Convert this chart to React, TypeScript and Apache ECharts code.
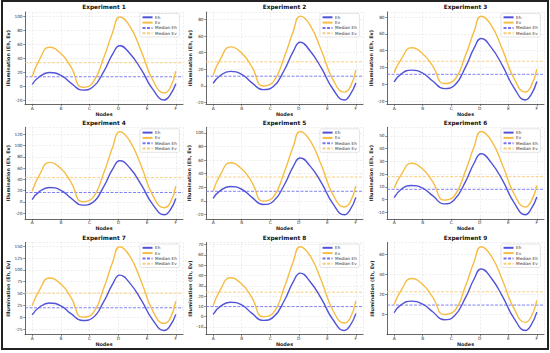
import React, { useEffect, useRef } from 'react';
import * as echarts from 'echarts';

const CATEGORIES = ['A', 'B', 'C', 'D', 'E', 'F'];
const EXPERIMENTS = ['Experiment 1', 'Experiment 2', 'Experiment 3', 'Experiment 4', 'Experiment 5', 'Experiment 6', 'Experiment 7', 'Experiment 8', 'Experiment 9'];
// positions along the node axis (A=0 ... F=5) where the curves were read
const X_SAMPLES = [0, 0.25, 0.6, 1, 1.35, 1.75, 2.1, 2.5, 2.8, 3.05, 3.4, 3.8, 4.2, 4.6, 4.8, 5];

const EH_1 = [3, 14, 20, 16, 5, -5, -1, 22, 46, 58, 47, 24, -4, -19, -12, 4];
const EV_1 = [14, 38, 56, 47, 28, -1, 5, 42, 77, 99, 86, 50, 9, -9, -2, 22];
const EH_2 = [3, 12.5, 17.5, 14, 4, -4.5, -1, 19.5, 41, 52.5, 42, 21, -4, -17, -10.5, 3.5];
const EV_2 = [13, 32, 47, 39.5, 23.5, 0, 4.5, 35.5, 65, 84, 73, 42, 7.5, -7.5, -1.5, 19];
const EH_3 = [3, 12.5, 17, 13.5, 4, -5, -1.5, 20.5, 43, 54.5, 44, 22, -4, -18.5, -12, 3.5];
const EV_3 = [14, 30, 43.5, 36.5, 22, 1, 5, 34.5, 63, 81, 70.5, 41, 7, -9, -2, 18];
const EH_4 = [4, 18, 25.5, 20.5, 6.5, -6, -1.5, 28, 58, 73, 60, 30, -5, -23, -15, 6];
const EV_4 = [19, 47.5, 70, 59, 35, 0, 6.5, 52.5, 97, 124.5, 108, 63, 11, -10.5, -2.5, 28];
const EH_5 = [3.5, 15, 21, 17, 5.5, -5.5, -1, 24, 50, 63, 51, 26, -4.5, -20.5, -13, 5];
const EV_5 = [14.5, 38, 56, 47, 28, -0.5, 5, 43, 79, 102, 88.5, 51.5, 9, -9, -2, 22];
const EH_6 = [1.5, 8, 11, 9, 3, -3.5, -0.5, 14, 28.5, 36, 29, 15, -2.5, -12, -7.5, 2];
const EV_6 = [9, 19.5, 28.5, 24, 14, -0.5, 2.5, 22.5, 41.5, 53.5, 46.5, 27, 4.5, -6, -1.5, 11];
const EH_7 = [5, 21, 30, 24, 7.5, -7, -1.5, 34, 70, 89, 72, 36, -6, -28, -18, 6];
const EV_7 = [24.5, 57, 83, 70, 42, 0, 7.5, 63, 116, 149, 129, 75, 13, -13, -3, 34];
const EH_8 = [2.3, 10, 14, 11.5, 3.5, -3.6, -0.7, 16, 33.5, 42.3, 34, 17, -3, -13.4, -8.5, 3];
const EV_8 = [10.7, 26, 37.8, 31.7, 19, 0, 3.5, 29, 53, 68, 59, 34.5, 6, -6.2, -1.5, 15.3];
const EH_9 = [2, 10, 13.5, 10.5, 3, -5, -1.5, 17, 35.5, 45.4, 36.5, 18, -3.5, -15.6, -10, 2.6];
const EV_9 = [10.3, 24.5, 36, 30, 17.5, 0.3, 3.5, 28.5, 52.5, 67.5, 58.5, 34, 6, -7.6, -2, 14.2];

const EH_SERIES = [EH_1, EH_2, EH_3, EH_4, EH_5, EH_6, EH_7, EH_8, EH_9];
const EV_SERIES = [EV_1, EV_2, EV_3, EV_4, EV_5, EV_6, EV_7, EV_8, EV_9];

const MEDIAN_EH = [14, 11.7, 12, 16.5, 14, 8, 20, 9.8, 9.6];
const MEDIAN_EV = [34, 29, 27.5, 43, 35, 18, 51, 23.8, 22.8];

// axis extents and tick steps per panel
const Y_MIN = [-25, -22, -23.5, -30.4, -26.6, -15.3, -36.9, -17.5, -19.8];
const Y_MAX = [106, 89, 86, 132.4, 108.1, 56.8, 157.9, 72.1, 71.7];
const Y_STEP = [20, 20, 20, 20, 20, 10, 25, 10, 20];
const X_MIN = -0.25;
const X_MAX = 5.25;

const FONT = 'DejaVu Sans';
const COL_LEFT = [25, 206, 387];
const COL_WIDTH = [158, 157, 157];
const ROW_TOP = [12, 127.3, 242.5];
const ROW_HEIGHT = [92.2, 91.6, 92.2];

const C_EH = '#5252d9';
const C_EV = '#f6bd45';
const C_MEH = '#7474f2';
const C_MEV = '#f7cc78';

export default function App() {
  const ref = useRef<HTMLDivElement>(null);
  useEffect(() => {
    if (!ref.current) return;
    const chart = echarts.init(ref.current, undefined, { renderer: 'svg' });
    const grids: any[] = [];
    const xAxes: any[] = [];
    const yAxes: any[] = [];
    const series: any[] = [];
    const legends: any[] = [];
    const graphics: any[] = [];
    for (let i = 0; i < 9; i++) {
      const r = Math.floor(i / 3);
      const c = i % 3;
      const left = COL_LEFT[c];
      const top = ROW_TOP[r];
      const width = COL_WIDTH[c];
      const height = ROW_HEIGHT[r];
      grids.push({ left, top, width, height, containLabel: false });
      const splitLine = { show: true, lineStyle: { color: '#e2e2e2', width: 0.6, type: [2, 1.5] } };
      xAxes.push({
        gridIndex: i,
        type: 'value',
        min: X_MIN,
        max: X_MAX,
        minInterval: 1,
        maxInterval: 1,
        name: 'Nodes',
        nameLocation: 'middle',
        nameGap: 7,
        nameTextStyle: { fontFamily: FONT, fontWeight: 'bold', fontSize: 4.9, color: '#222' },
        axisLine: { show: true, onZero: false, lineStyle: { color: '#444', width: 0.8 } },
        axisTick: { show: true, length: 1.8, lineStyle: { color: '#444', width: 0.6 } },
        axisLabel: {
          fontFamily: FONT, fontSize: 4.4, color: '#333', margin: 1.8,
          showMinLabel: false, showMaxLabel: false,
          formatter: (v: number) => (Number.isInteger(v) && v >= 0 && v < CATEGORIES.length ? CATEGORIES[v] : ''),
        },
        splitLine,
      });
      yAxes.push({
        gridIndex: i,
        type: 'value',
        min: Y_MIN[i],
        max: Y_MAX[i],
        minInterval: Y_STEP[i],
        maxInterval: Y_STEP[i],
        name: 'Illumination (Eh, Ev)',
        nameLocation: 'middle',
        nameGap: 13,
        nameTextStyle: { fontFamily: FONT, fontWeight: 'bold', fontSize: 4.9, color: '#222' },
        axisLine: { show: true, onZero: false, lineStyle: { color: '#444', width: 0.8 } },
        axisTick: { show: true, length: 1.8, lineStyle: { color: '#444', width: 0.6 } },
        axisLabel: { fontFamily: FONT, fontSize: 4.3, color: '#333', margin: 2.4, showMinLabel: false, showMaxLabel: false },
        splitLine,
      });
      const eh = X_SAMPLES.map((x, k) => [x, EH_SERIES[i][k]]);
      const ev = X_SAMPLES.map((x, k) => [x, EV_SERIES[i][k]]);
      series.push({
        type: 'line', name: 'Eh', xAxisIndex: i, yAxisIndex: i, data: eh, smooth: 0.5, symbol: 'none',
        lineStyle: { color: C_EH, width: 1.4 }, itemStyle: { color: C_EH }, z: 3,
      });
      series.push({
        type: 'line', name: 'Ev', xAxisIndex: i, yAxisIndex: i, data: ev, smooth: 0.5, symbol: 'none',
        lineStyle: { color: C_EV, width: 1.4 }, itemStyle: { color: C_EV }, z: 3,
      });
      series.push({
        type: 'line', name: 'Median Eh', xAxisIndex: i, yAxisIndex: i,
        data: [[X_MIN, MEDIAN_EH[i]], [X_MAX, MEDIAN_EH[i]]], symbol: 'none',
        lineStyle: { color: C_MEH, width: 0.9, type: [3, 1.5] }, itemStyle: { color: C_MEH }, z: 2,
      });
      series.push({
        type: 'line', name: 'Median Ev', xAxisIndex: i, yAxisIndex: i,
        data: [[X_MIN, MEDIAN_EV[i]], [X_MAX, MEDIAN_EV[i]]], symbol: 'none',
        lineStyle: { color: C_MEV, width: 0.9, type: [3, 1.5] }, itemStyle: { color: C_MEV }, z: 2,
      });
      legends.push({
        data: ['Eh', 'Ev', 'Median Eh', 'Median Ev'],
        orient: 'vertical',
        right: 550 - (left + width - 3.6),
        top: top + 1.5,
        itemWidth: 10,
        itemHeight: 3,
        itemGap: 1.3,
        selectedMode: false,
        backgroundColor: 'rgba(255,255,255,0.85)',
        borderColor: '#d4d4d4',
        borderWidth: 0.6,
        borderRadius: 1.5,
        padding: [1.8, 2.5, 1.8, 1.6],
        itemStyle: { opacity: 0 },
        textStyle: { fontFamily: FONT, fontSize: 4.2, color: '#333', padding: [0, 0, 0, -2.5] },
      });
      graphics.push({
        type: 'text',
        x: left + width / 2,
        y: top - 4.6,
        style: {
          text: EXPERIMENTS[i], textAlign: 'center', textVerticalAlign: 'middle',
          font: `bold 5.8px "${FONT}"`, fill: '#111',
        },
      });
    }
    graphics.push({
      type: 'rect',
      shape: { x: 2, y: 1, width: 546, height: 348 },
      style: { fill: 'none', stroke: '#222', lineWidth: 2 },
      z: 100,
    });
    chart.setOption({
      animation: false,
      backgroundColor: '#fff',
      grid: grids,
      xAxis: xAxes,
      yAxis: yAxes,
      series,
      legend: legends,
      graphic: graphics,
    });
    return () => chart.dispose();
  }, []);
  return <div ref={ref} style={{ position: 'fixed', left: 0, top: 0, width: 550, height: 353 }} />;
}
